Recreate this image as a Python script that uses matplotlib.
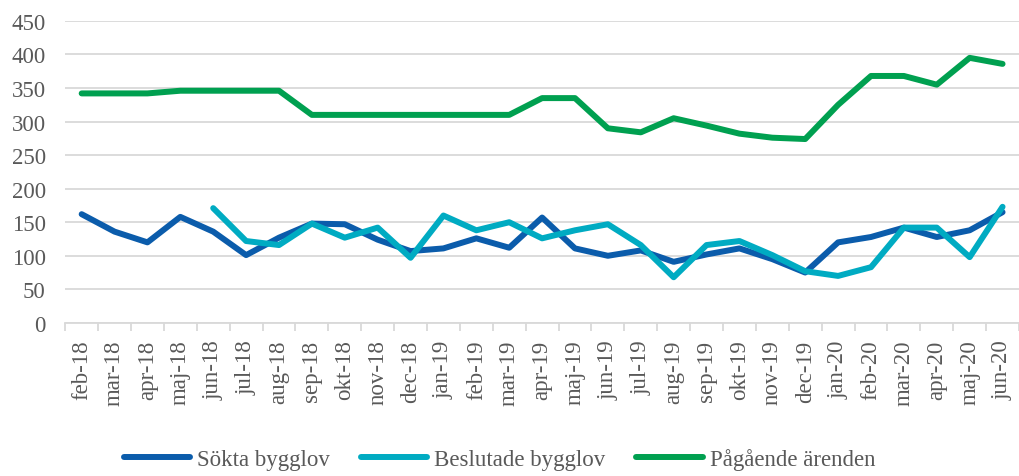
import numpy as np
import matplotlib
matplotlib.use("Agg")
import matplotlib.pyplot as plt

months = ["feb-18", "mar-18", "apr-18", "maj-18", "jun-18", "jul-18", "aug-18",
          "sep-18", "okt-18", "nov-18", "dec-18", "jan-19", "feb-19", "mar-19",
          "apr-19", "maj-19", "jun-19", "jul-19", "aug-19", "sep-19", "okt-19",
          "nov-19", "dec-19", "jan-20", "feb-20", "mar-20", "apr-20", "maj-20",
          "jun-20"]

sokta = [162, 136, 120, 158, 136, 101, 127, 148, 147, 124, 107, 111, 126, 112,
         157, 111, 100, 108, 91, 102, 111, 95, 75, 120, 128, 142, 128, 138, 165]

# beslutade starts in jun-18
beslutade = [np.nan, np.nan, np.nan, np.nan, 171, 122, 116, 148, 127, 142, 97,
             160, 138, 150, 126, 138, 147, 116, 68, 116, 122, 101, 77, 70, 83,
             142, 142, 98, 173]

pagaende = [342, 342, 342, 346, 346, 346, 346, 310, 310, 310, 310, 310, 310, 310,
            335, 335, 290, 284, 305, 294, 282, 276, 274, 325, 368, 368, 355, 395, 386]

plt.rcParams['font.family'] = ['Liberation Serif', 'DejaVu Serif']

fig = plt.figure(figsize=(10.19, 4.77), dpi=100)
ax = fig.add_axes([0.064, 0.321, 0.936, 0.633])

x = np.arange(len(months))
ax.plot(x, sokta, color="#0B5CAB", lw=4.3, solid_capstyle="round", label="Sökta bygglov")
ax.plot(x, beslutade, color="#00ABC2", lw=4.3, solid_capstyle="round", label="Beslutade bygglov")
ax.plot(x, pagaende, color="#00A050", lw=4.3, solid_capstyle="round", label="Pågående ärenden")

ax.set_ylim(0, 450)
ax.set_yticks(np.arange(0, 451, 50))
ax.set_xlim(-0.5, len(months) - 0.5)
ax.set_xticks(x)
ax.set_xticklabels(months, rotation=90)
ax.set_xticks(np.arange(-0.5, len(months), 1), minor=True)

ax.grid(axis="y", color="#D9D9D9", lw=1.3)
ax.set_axisbelow(True)
for s in ["top", "right", "left"]:
    ax.spines[s].set_visible(False)
ax.spines["bottom"].set_color("#D9D9D9")
ax.spines["bottom"].set_linewidth(1.3)

ax.tick_params(axis="y", length=0, labelsize=16.5, labelcolor="#595959", pad=14)
ax.tick_params(axis="x", which="major", length=0, labelsize=16.5, labelcolor="#595959", pad=12)
ax.tick_params(axis="x", which="minor", length=6, color="#D9D9D9", width=1.3)

leg = fig.legend(loc="lower center", bbox_to_anchor=(0.49, -0.03), ncol=3, frameon=False,
                 fontsize=16.5, handlelength=2.9, columnspacing=1.35, handletextpad=0.3)
for t in leg.get_texts():
    t.set_color("#595959")

fig.savefig("out.png", dpi=100)
